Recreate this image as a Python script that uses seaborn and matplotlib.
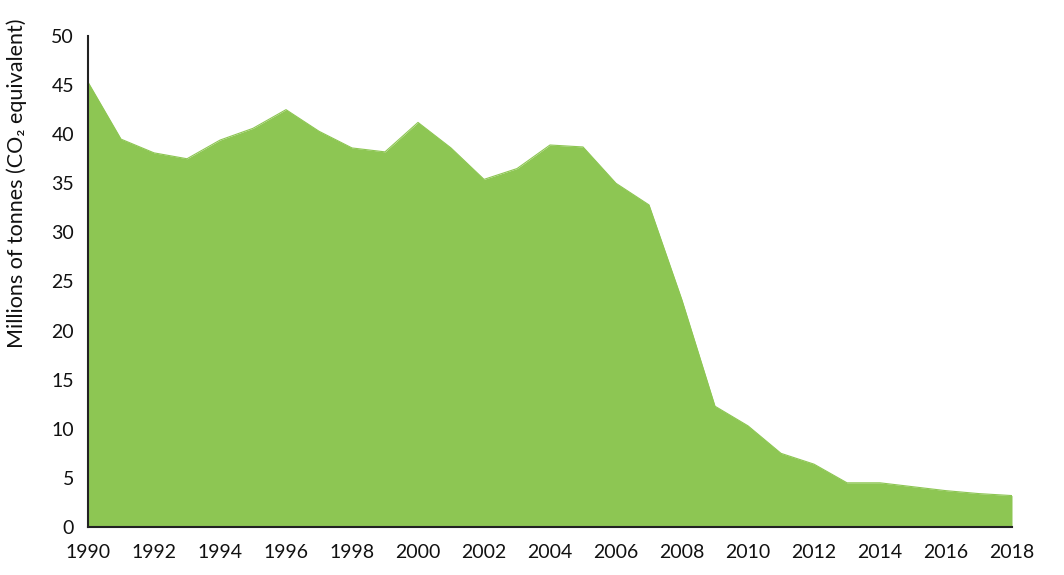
import numpy as np
import pandas as pd
import seaborn as sns
import matplotlib.pyplot as plt

years = list(range(1990, 2019))
emissions = [45.3, 39.5, 38.1, 37.5, 39.4, 40.6, 42.5, 40.3, 38.6, 38.2,
             41.2, 38.6, 35.4, 36.5, 38.9, 38.7, 35.0, 32.8, 23.1, 12.3,
             10.3, 7.5, 6.4, 4.5, 4.5, 4.1, 3.7, 3.4, 3.2]
x_ticks = list(range(1990, 2019, 2))
y_ticks = list(range(0, 51, 5))

green = '#8DC653'

sns.set_theme(style='white')
plt.rcParams['font.family'] = ['Lato', 'DejaVu Sans']

df = pd.DataFrame({'year': years, 'value': emissions})

fig = plt.figure(figsize=(10.64, 5.75), dpi=100)
ax = fig.add_axes([88 / 1064, 1 - 527 / 575, 924 / 1064, 491 / 575])

sns.lineplot(data=df, x='year', y='value', color=green, linewidth=0.8, ax=ax)
ax.fill_between(df['year'], df['value'], 0, color=green, linewidth=0)

ax.set_xlim(1990, 2018)
ax.set_ylim(0, 50)
ax.set_xticks(x_ticks)
ax.set_yticks(y_ticks)
ax.tick_params(axis='both', length=0, labelsize=14, colors='#111111')
ax.tick_params(axis='x', pad=12)
ax.tick_params(axis='y', pad=10)

ax.set_xlabel('')
ax.set_ylabel('Millions of tonnes (CO\u2082 equivalent)', fontsize=15.5, color='#111111')
ax.yaxis.set_label_coords(-0.066, 0.70)

for side in ['top', 'right']:
    ax.spines[side].set_visible(False)
for side in ['left', 'bottom']:
    ax.spines[side].set_color('#222222')
    ax.spines[side].set_linewidth(1.5)

fig.savefig('out.png', dpi=100)
